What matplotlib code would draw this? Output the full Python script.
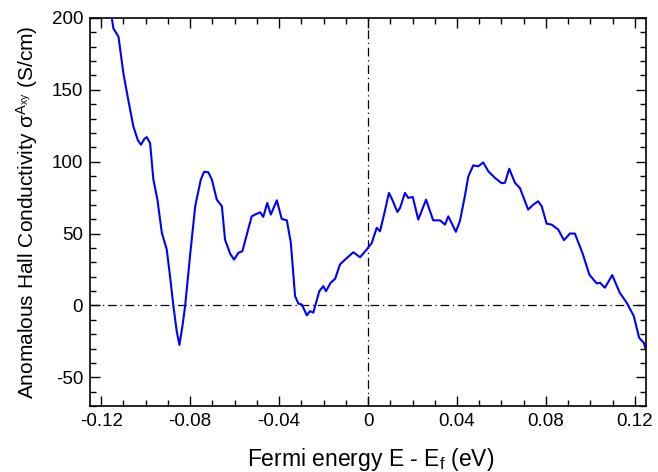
import numpy as np
import matplotlib
matplotlib.use("Agg")
import matplotlib.pyplot as plt
from matplotlib.ticker import MultipleLocator, FixedLocator

plt.rcParams['font.family'] = ['Liberation Sans', 'DejaVu Sans']
plt.rcParams['mathtext.fontset'] = 'custom'
plt.rcParams['mathtext.rm'] = 'Liberation Sans'
plt.rcParams['mathtext.it'] = 'Liberation Sans'
plt.rcParams['mathtext.bf'] = 'Liberation Sans:bold'
plt.rcParams['axes.unicode_minus'] = False

# energy (eV) and anomalous Hall conductivity (S/cm)
energy = [
    -0.1160, -0.1152, -0.1145, -0.1122, -0.1100, -0.1078, -0.1055, -0.1035, -0.1021,
    -0.1005, -0.0995, -0.0980,
    -0.0965, -0.0947, -0.0927, -0.0905, -0.0890, -0.0875, -0.0860, -0.0848, -0.0835,
    -0.0822, -0.0800, -0.0777,
    -0.0752, -0.0737, -0.0718, -0.0702, -0.0680, -0.0657, -0.0643, -0.0620, -0.0602,
    -0.0583, -0.0565, -0.0523, -0.0508, -0.0485, -0.0471, -0.0453, -0.0437,
    -0.0410, -0.0388, -0.0365, -0.0347, -0.0328, -0.0313, -0.0298, -0.0275,
    -0.0261, -0.0246, -0.0219, -0.0201, -0.0189, -0.0168, -0.0148, -0.0126,
    -0.0103, -0.0066, -0.0036, -0.0006, 0.0017, 0.0039, 0.0054, 0.0072,
    0.0094, 0.0109, 0.0132, 0.0144, 0.0166, 0.0181, 0.0201, 0.0226, 0.0261,
    0.0293, 0.0324, 0.0346, 0.0361, 0.0395, 0.0413, 0.0436, 0.0451, 0.0473,
    0.0496, 0.0518, 0.0541, 0.0571, 0.0601, 0.0616, 0.0635, 0.0661, 0.0683,
    0.0720, 0.0743, 0.0765, 0.0781, 0.0803, 0.0826, 0.0855, 0.0881, 0.0908,
    0.0930, 0.0965, 0.0995, 0.1028, 0.1043, 0.1065, 0.1098, 0.1132, 0.1163,
    0.1195, 0.1219, 0.1240, 0.1249,
]
sigma = [
    210, 200, 192.8, 187, 161.6, 143, 124.5, 115, 111.8,
    116, 117.1, 113,
    87.5, 73.6, 50.5, 38.9, 20, -0.5, -18, -27.5, -15,
    0, 35, 69,
    87.5, 93, 92.6, 87.5, 73.6, 69, 45.8, 36, 31.9,
    36.6, 37.7, 62, 63.2, 64.8, 61.6, 71.3, 63.2,
    73.1, 60.2, 59.2, 43.5, 6.5, 1.2, 0.7, -6.9,
    -4, -5, 9.9, 13.4, 9.9, 15.8, 18.5, 28.5,
    31.9, 37, 33.5, 38.9, 43.5, 54, 51.6, 63.2,
    78.3, 73.6, 65, 67.8, 78.3, 74.8, 75.5, 59.7, 73.6,
    59.2, 59.2, 56.2, 62, 51.2, 58.6, 76.5, 89.8, 97.4,
    96.8, 99.5, 93.3, 88.7, 85, 85.4, 95.1, 85.2, 81.7,
    66.7, 70.1, 72.5, 69, 56.9, 56.2, 52.8, 45.4, 50,
    50, 36.1, 21.5, 15.3, 15.8, 12.3, 21.1, 8.8, 1.9,
    -7.4, -22.5, -26, -30.6,
]
xticks = [-0.12, -0.08, -0.04, 0, 0.04, 0.08, 0.12]
xticklabels = ['-0.12', '-0.08', '-0.04', '0', '0.04', '0.08', '0.12']

fig = plt.figure(figsize=(6.58, 4.72), dpi=100)
ax = fig.add_axes([0.1368, 0.1398, 0.845, 0.8221])

ax.axhline(0, color='black', lw=0.9, ls='-.', dashes=(7, 3, 1, 3), zorder=1)
ax.axvline(0, color='black', lw=0.9, ls='-.', dashes=(7, 3, 1, 3), zorder=1)
ax.plot(energy, sigma, color='#0000ff', lw=1.5, zorder=2)

ax.set_xlim(-0.125, 0.125)
ax.set_ylim(-70, 200)
ax.xaxis.set_major_locator(FixedLocator(xticks))
ax.set_xticklabels(xticklabels)
ax.xaxis.set_minor_locator(MultipleLocator(0.01))
ax.yaxis.set_major_locator(MultipleLocator(50))
ax.yaxis.set_minor_locator(MultipleLocator(10))

ax.tick_params(which='both', direction='in', top=True, right=True, labelsize=13.5, width=1)
ax.tick_params(which='major', length=7.5, pad=5)
ax.tick_params(which='minor', length=4)
for s in ax.spines.values():
    s.set_linewidth(1.2)

ax.set_xlabel(r'Fermi energy E - E$_\mathregular{f}$ (eV)', fontsize=16.5)
ax.xaxis.set_label_coords(0.505, -0.103)
ax.set_ylabel(r'Anomalous Hall Conductivity $\mathregular{\sigma^{A_{xy}}}$ (S/cm)',
              fontsize=15)
ax.yaxis.set_label_coords(-0.09, 0.5)

fig.savefig('out.png', dpi=100)
